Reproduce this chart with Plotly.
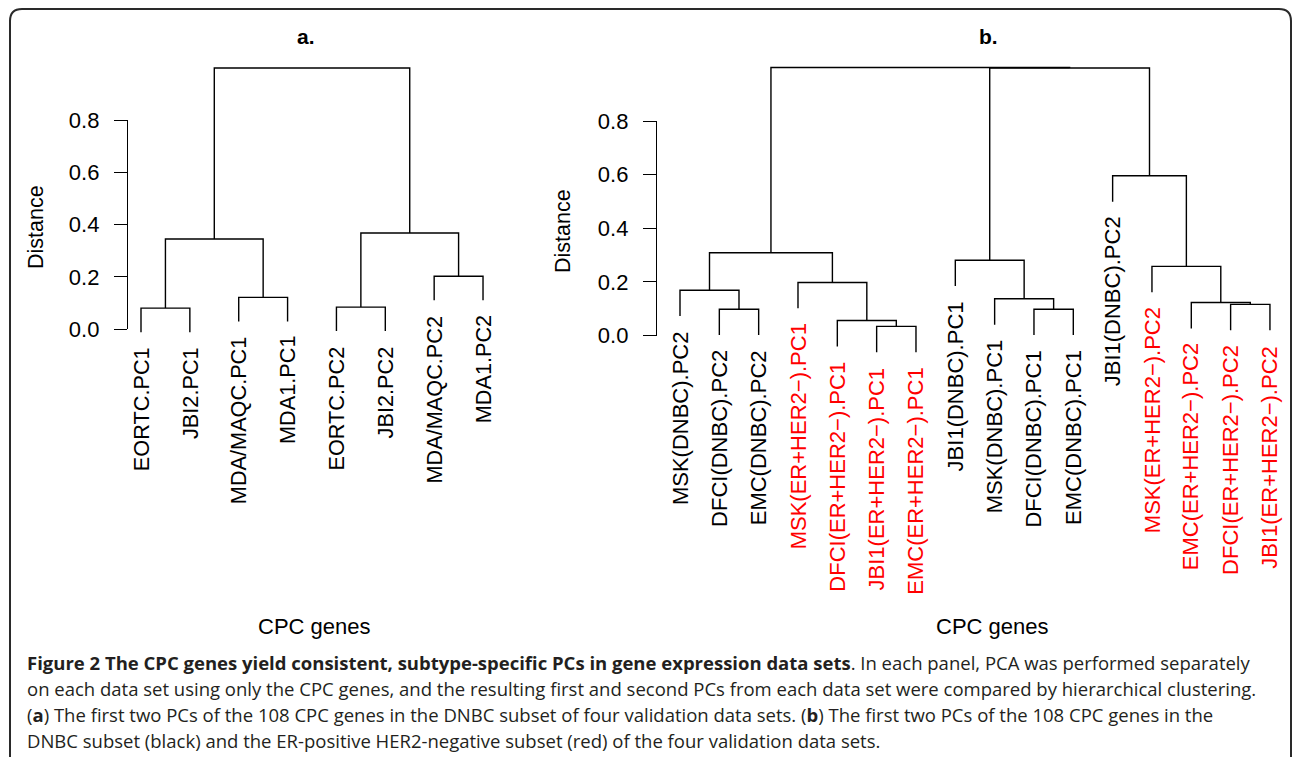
import plotly.graph_objects as go

# ---------------- data ----------------
a_labels = ["EORTC.PC1", "JBI2.PC1", "MDA/MAQC.PC1", "MDA1.PC1",
            "EORTC.PC2", "JBI2.PC2", "MDA/MAQC.PC2", "MDA1.PC2"]
a_colors = ["black"] * 8
# R-style merge matrix: negative = leaf (1-based, in plotted order), positive = earlier merge
a_merge_left = [-1, -5, -3, -7, 1, 2, 5]
a_merge_right = [-2, -6, -4, -8, 3, 4, 6]
a_heights = [0.080, 0.084, 0.121, 0.202, 0.345, 0.368, 1.000]

b_labels = ["MSK(DNBC).PC2", "DFCI(DNBC).PC2", "EMC(DNBC).PC2",
            "MSK(ER+HER2\u2212).PC1", "DFCI(ER+HER2\u2212).PC1", "JBI1(ER+HER2\u2212).PC1", "EMC(ER+HER2\u2212).PC1",
            "JBI1(DNBC).PC1", "MSK(DNBC).PC1", "DFCI(DNBC).PC1", "EMC(DNBC).PC1",
            "JBI1(DNBC).PC2", "MSK(ER+HER2\u2212).PC2", "EMC(ER+HER2\u2212).PC2",
            "DFCI(ER+HER2\u2212).PC2", "JBI1(ER+HER2\u2212).PC2"]
b_subset = ["DNBC", "DNBC", "DNBC", "ER+", "ER+", "ER+", "ER+",
            "DNBC", "DNBC", "DNBC", "DNBC", "DNBC", "ER+", "ER+", "ER+", "ER+"]
b_merge_left = [-6, -5, -2, -10, -15, -14, -9, -1, -4, -13, -8, 8, -12, 11, 12]
b_merge_right = [-7, 1, -3, -11, -16, 5, 4, 3, 2, 6, 7, 9, 10, 13, 14]
b_heights = [0.034, 0.056, 0.098, 0.098, 0.116, 0.123, 0.137, 0.169,
             0.198, 0.258, 0.281, 0.309, 0.596, 0.998, 1.000]

y_ticks = [0.0, 0.2, 0.4, 0.6, 0.8]

caption_lines = [
    "<b>Figure 2 The CPC genes yield consistent, subtype-specific PCs in gene expression data sets</b>. In each panel, PCA was performed separately",
    "on each data set using only the CPC genes, and the resulting first and second PCs from each data set were compared by hierarchical clustering.",
    "(<b>a</b>) The first two PCs of the 108 CPC genes in the DNBC subset of four validation data sets. (<b>b</b>) The first two PCs of the 108 CPC genes in the",
    "DNBC subset (black) and the ER-positive HER2-negative subset (red) of the four validation data sets.",
]

# ---------------- layout constants (pixels) ----------------
W, H = 1295, 757
FONT = "Liberation Sans, Arial, Helvetica, sans-serif"
CAP_FONT = "Open Sans, sans-serif"
RED = "#ff0000"

panels = {
    "a": dict(leaf0=141.0, step=48.86, zero=329.0, unit=261.0, axis=127.0,
              dom_l=127.0, dom_r=520.0, title_x=306, dist_x=36, dist_y=227, cpc_x=314,
              lab_size=21.7),
    "b": dict(leaf0=680.0, step=39.33, zero=335.5, unit=268.0, axis=656.0,
              dom_l=656.0, dom_r=1290.0, title_x=988, dist_x=563, dist_y=231, cpc_x=993,
              lab_size=22.0),
}
DOM_T, DOM_B = 40.0, 600.0


def fx(px):
    return px / W


def fy(py):
    return 1 - py / H


def dendro(merge_l, merge_r, heights):
    n = len(heights)
    hang = 0.1 * (max(heights) - min(heights))
    pos = {}
    xs, ys = [], []
    leaf_end = {}

    def child(c, h):
        if c < 0:
            x = -c
            y_end = h - hang
            leaf_end[-c] = y_end
        else:
            x = pos[c]
            y_end = heights[c - 1]
        return x, y_end

    for i in range(n):
        h = heights[i]
        xl, yl = child(merge_l[i], h)
        xr, yr = child(merge_r[i], h)
        xs += [xl, xl, xr, xr, None]
        ys += [yl, h, h, yr, None]
        pos[i + 1] = (xl + xr) / 2
    return xs, ys, leaf_end


fig = go.Figure()
annotations = []
layout_axes = {}

specs = [
    ("a", "x", "y", "y3", a_labels, a_colors, a_merge_left, a_merge_right, a_heights),
    ("b", "x2", "y2", "y4", b_labels,
     ["black" if s == "DNBC" else RED for s in b_subset], b_merge_left, b_merge_right, b_heights),
]

for key, xa, ya, yd, labels, colors, ml, mr, hts in specs:
    p = panels[key]
    xs, ys, leaf_end = dendro(ml, mr, hts)
    fig.add_trace(go.Scatter(x=xs, y=ys, xaxis=xa, yaxis=ya, mode="lines",
                             line=dict(color="black", width=1.4), hoverinfo="skip",
                             showlegend=False))
    # dummy trace for the distance axis
    fig.add_trace(go.Scatter(x=[None], y=[None], xaxis=xa, yaxis=yd, mode="lines",
                             showlegend=False, hoverinfo="skip"))
    xr0 = 1 + (p["dom_l"] - p["leaf0"]) / p["step"]
    xr1 = 1 + (p["dom_r"] - p["leaf0"]) / p["step"]
    yr0 = (p["zero"] - DOM_B) / p["unit"]
    yr1 = (p["zero"] - DOM_T) / p["unit"]
    xname = "xaxis" if xa == "x" else "xaxis2"
    yname = "yaxis" if ya == "y" else "yaxis2"
    dname = "yaxis3" if yd == "y3" else "yaxis4"
    layout_axes[xname] = dict(domain=[fx(p["dom_l"]), fx(p["dom_r"])], range=[xr0, xr1],
                              visible=False, anchor=ya, automargin=False)
    layout_axes[yname] = dict(domain=[fy(DOM_B), fy(DOM_T)], range=[yr0, yr1],
                              visible=False, anchor=xa, automargin=False)
    layout_axes[dname] = dict(
        domain=[fy(p["zero"]), fy(p["zero"] - 0.8 * p["unit"])], range=[0, 0.8],
        anchor="free", position=fx(p["axis"]), showline=True, linecolor="black", linewidth=1.3,
        ticks="outside", ticklen=13, tickwidth=1.3, tickcolor="black",
        tickvals=y_ticks, ticktext=[f"{v:.1f}" for v in y_ticks],
        tickfont=dict(family=FONT, size=22, color="black"), ticklabelstandoff=10,
        showgrid=False, zeroline=False, automargin=False)

    for i, lab in enumerate(labels):
        annotations.append(dict(
            x=i + 1, y=leaf_end[i + 1], xref=xa, yref=ya, text=lab, showarrow=False,
            textangle=-90, xanchor="center", yanchor="top", yshift=-13,
            font=dict(family=FONT, size=p["lab_size"], color=colors[i])))

    annotations.append(dict(x=fx(p["title_x"]), y=fy(36), xref="paper", yref="paper",
                            text=f"<b>{key}.</b>", showarrow=False, xanchor="center",
                            yanchor="middle", font=dict(family=FONT, size=21, color="black")))
    annotations.append(dict(x=fx(p["dist_x"]), y=fy(p["dist_y"]), xref="paper", yref="paper",
                            text="Distance", textangle=-90, showarrow=False, xanchor="center",
                            yanchor="middle", font=dict(family=FONT, size=21.5, color="black")))
    annotations.append(dict(x=fx(p["cpc_x"]), y=fy(626), xref="paper", yref="paper",
                            text="CPC genes", showarrow=False, xanchor="center",
                            yanchor="middle", font=dict(family=FONT, size=22, color="black")))

cap_y = [662, 688, 714, 740]
for line, cy in zip(caption_lines, cap_y):
    annotations.append(dict(x=fx(25), y=fy(cy), xref="paper", yref="paper", text=line,
                            showarrow=False, xanchor="left", yanchor="middle",
                            font=dict(family=CAP_FONT, size=18.5, color="#231f20")))

# rounded frame around the figure
L, T, R, B, r = 10, 9, 1291, 800, 12
path = (f"M {fx(L)},{fy(B)} L {fx(L)},{fy(T + r)} Q {fx(L)},{fy(T)} {fx(L + r)},{fy(T)} "
        f"L {fx(R - r)},{fy(T)} Q {fx(R)},{fy(T)} {fx(R)},{fy(T + r)} L {fx(R)},{fy(B)}")
shapes = [dict(type="path", xref="paper", yref="paper", path=path,
               line=dict(color="#2a2a2a", width=2))]

fig.update_layout(
    width=W, height=H, margin=dict(l=0, r=0, t=0, b=0, pad=0, autoexpand=False),
    paper_bgcolor="white", plot_bgcolor="rgba(0,0,0,0)",
    showlegend=False, annotations=annotations, shapes=shapes,
    **layout_axes,
)

fig.write_html("out.html", config={"displayModeBar": False},
               post_script="document.body.style.margin='0';document.body.style.overflow='hidden';")
